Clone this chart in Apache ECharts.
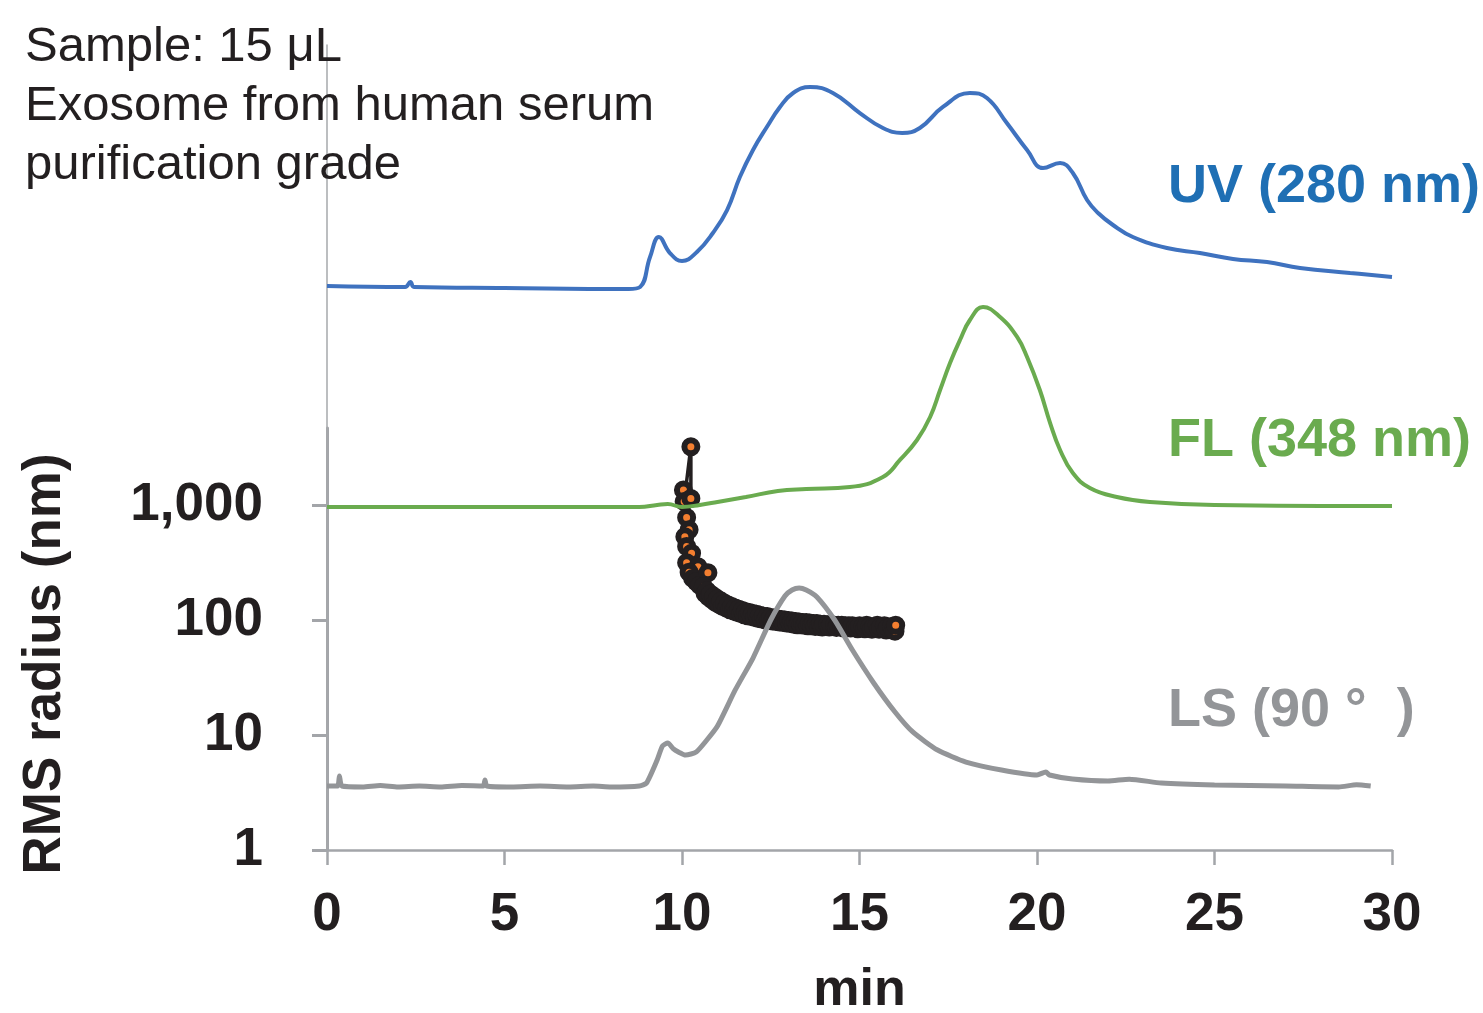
<!DOCTYPE html>
<html>
<head>
<meta charset="utf-8">
<script src="https://cdn.jsdelivr.net/npm/echarts@6/dist/echarts.min.js"></script>
<style>
html,body{margin:0;padding:0;background:#fff;}
#chart{width:1483px;height:1013px;}
</style>
</head>
<body>
<div id="chart"></div>
<script>
// ---- Data (time in min) ----
const xTicks = [0, 5, 10, 15, 20, 25, 30];
const yTicks = [1, 10, 100, 1000];

// UV (280 nm) signal, arbitrary units
const uvTrace = [[0,70.06],[2.2,69.94],[2.35,70.56],[2.45,69.94],[5,69.81],[8.5,69.69],[8.82,69.94],[9.1,73.66],[9.35,76.15],[9.66,74.16],[10.0,73.17],[10.42,74.29],[10.87,76.65],[11.27,79.50],[11.63,83.60],[12.0,86.96],[12.39,89.81],[12.76,92.30],[13.13,94.04],[13.61,94.78],[14.25,94.04],[15.01,91.55],[15.66,89.69],[16.2,89.07],[16.7,89.69],[17.35,92.30],[18.11,94.04],[18.59,93.42],[19.15,90.31],[19.72,86.96],[20.17,84.72],[20.65,85.34],[21.01,84.10],[21.41,80.75],[21.72,79.13],[22.14,77.64],[22.7,76.15],[23.66,74.78],[24.59,74.16],[25.52,73.42],[26.48,73.04],[27.41,72.30],[28.82,71.68],[30.0,71.18]];

// FL (348 nm) signal, arbitrary units
const flTrace = [[0,42.61],[8.8,42.61],[9.3,42.86],[9.6,42.98],[10.0,42.61],[10.5,42.86],[11.0,43.23],[11.8,43.85],[12.7,44.60],[13.5,44.84],[14.73,45.09],[15.66,46.34],[16.14,48.45],[16.62,50.93],[16.99,53.79],[17.27,57.14],[17.55,60.50],[17.83,63.35],[18.11,65.84],[18.48,67.45],[18.96,66.21],[19.44,63.73],[19.72,61.24],[20.08,57.14],[20.37,53.04],[20.65,49.69],[21.01,46.83],[21.49,44.97],[22.25,43.85],[23.18,43.23],[25.0,42.86],[30.0,42.73]];

// LS (90°) signal, arbitrary units
const lsTrace = [[0,7.95],[0.3,7.95],[0.35,9.19],[0.42,7.95],[1.0,7.83],[1.5,8.0],[2,7.83],[2.6,7.95],[3.2,7.83],[3.8,8.0],[4.4,7.95],[4.45,8.7],[4.5,7.95],[5.2,7.83],[6,7.95],[6.8,7.83],[7.5,7.95],[8,7.83],[8.8,7.95],[9.0,8.32],[9.3,11.18],[9.45,12.92],[9.6,13.29],[9.75,12.6],[9.9,12.17],[10.1,11.80],[10.4,12.17],[10.7,13.66],[11.0,15.40],[11.5,19.88],[12.0,23.85],[12.5,28.57],[12.9,31.55],[13.1,32.3],[13.3,32.55],[13.5,32.30],[13.8,31.43],[14.3,28.57],[14.8,24.84],[15.4,20.75],[16.0,17.14],[16.5,14.66],[17.2,12.42],[18.0,10.93],[19.0,9.94],[20.0,9.32],[20.25,9.7],[20.35,9.32],[21,8.82],[22,8.57],[22.6,8.8],[23.5,8.32],[25,8.07],[27,7.95],[28.5,7.83],[29.0,8.1],[29.4,7.95]];

// RMS radius (nm) vs time (min)
const rmsRadius = [[10.04,1350],[10.06,1070],[10.25,3210],[10.25,1140],[10.13,780],[10.2,610],[10.08,530],[10.13,435],[10.27,380],[10.13,315],[10.45,290],[10.2,260],[10.3,230],[10.4,215],[10.5,200],[10.73,258],
[10.6,195],[10.65,170],[10.7,180],[10.75,158],[10.8,168],[10.85,150],[10.9,160],[10.95,142],[11.0,152],[11.05,136],[11.1,146],[11.15,131],[11.2,140],[11.25,127],[11.3,135],[11.35,123],[11.4,131],[11.45,120],[11.5,127],[11.55,117],[11.6,124],[11.65,114],[11.7,121],[11.75,111],[11.8,118],[11.85,109],[11.9,116],[11.95,107],[12.0,114],[12.05,105],[12.1,112],[12.15,103],[12.2,110],[12.25,102],[12.3,108],[12.35,100],[12.4,107],[12.45,99],[12.5,105],[12.55,98],[12.6,104],[12.65,97],[12.7,102],[12.75,96],[12.8,101],[12.85,95],[12.9,100],[12.95,94],[13.0,99],[13.05,93],[13.1,98],[13.15,92],[13.2,97],[13.25,91],[13.3,96],[13.35,91],[13.4,95],[13.45,90],[13.5,95],[13.55,89],[13.6,94],[13.65,89],[13.7,93],[13.75,88],[13.8,93],[13.85,88],[13.9,92],[13.95,87],[14.0,92],[14.1,91],[14.15,87],[14.2,91],[14.3,90],[14.35,86],[14.4,90],[14.5,90],[14.55,85],[14.6,89],[14.7,89],[14.75,85],[14.8,89],[14.9,88],[14.95,84],[15.0,89],[15.1,88],[15.15,84],[15.2,90],[15.3,88],[15.35,83],[15.4,87],[15.5,90],[15.55,83],[15.6,87],[15.7,89],[15.75,82],[15.8,86],[15.9,88],[15.95,81],[16.0,80],[16.02,90]];

const annotationLines = ['Sample: 15 μL', 'Exosome from human serum', 'purification grade'];
const traceLabels = ['UV (280 nm)', 'FL (348 nm)', 'LS (90 °  )'];

const FONT = "'Liberation Sans', Arial, Helvetica, sans-serif";
const AXIS_GREY = '#a3a5a9';
const TEXT_DARK = '#231f20';

const chart = echarts.init(document.getElementById('chart'), null, {renderer: 'canvas'});

const option = {
  backgroundColor: '#ffffff',
  animation: false,
  grid: [
    {left: 327, right: 91, top: 428, bottom: 163, containLabel: false, outerBoundsMode: 'none'},
    {left: 327, right: 91, top: 45, bottom: 163, containLabel: false, outerBoundsMode: 'none'}
  ],
  xAxis: [
    {
      gridIndex: 0, type: 'value', min: 0, max: 30, interval: 5,
      name: 'min', nameLocation: 'middle', nameGap: 115,
      nameTextStyle: {fontFamily: FONT, fontWeight: 'bold', fontSize: 52, color: TEXT_DARK},
      axisLine: {show: true, lineStyle: {color: AXIS_GREY, width: 2.5}},
      axisTick: {show: true, inside: false, length: 15, lineStyle: {color: AXIS_GREY, width: 2.5}},
      axisLabel: {margin: 39, fontFamily: FONT, fontWeight: 'bold', fontSize: 53, color: TEXT_DARK, showMinLabel: true, showMaxLabel: true},
      splitLine: {show: false}
    },
    {
      gridIndex: 1, type: 'value', min: 0, max: 30, show: false
    }
  ],
  yAxis: [
    {
      gridIndex: 0, type: 'log', logBase: 10, min: 1, max: Math.pow(10, 422/115),
      axisLine: {show: true, onZero: false, lineStyle: {color: AXIS_GREY, width: 3}},
      axisTick: {show: true, length: 15, lineStyle: {color: AXIS_GREY, width: 3}, customValues: yTicks},
      axisLabel: {margin: 64, fontFamily: FONT, fontWeight: 'bold', fontSize: 53, color: TEXT_DARK,
        customValues: yTicks,
        formatter: v => Math.round(v).toLocaleString('en-US')},
      splitLine: {show: false},
      minorTick: {show: false}
    },
    {
      gridIndex: 1, type: 'value', min: 0, max: 100,
      axisLine: {show: true, onZero: false, lineStyle: {color: '#a6a8ab', width: 1.5}},
      axisTick: {show: false}, axisLabel: {show: false}, splitLine: {show: false}
    }
  ],
  series: [
    {
      name: 'RMS radius', type: 'line', xAxisIndex: 0, yAxisIndex: 0,
      data: rmsRadius, z: 2,
      showSymbol: true, symbol: 'circle', symbolSize: 13,
      lineStyle: {color: TEXT_DARK, width: 3.5},
      itemStyle: {color: '#f47f30', borderColor: TEXT_DARK, borderWidth: 6},
      clip: false
    },
    {
      name: 'LS (90°)', type: 'line', xAxisIndex: 1, yAxisIndex: 1,
      data: lsTrace, z: 3, showSymbol: false, smooth: 0.2,
      lineStyle: {color: '#939598', width: 5}
    },
    {
      name: 'FL (348 nm)', type: 'line', xAxisIndex: 1, yAxisIndex: 1,
      data: flTrace, z: 4, showSymbol: false, smooth: 0.45,
      lineStyle: {color: '#6aab4f', width: 4}
    },
    {
      name: 'UV (280 nm)', type: 'line', xAxisIndex: 1, yAxisIndex: 1,
      data: uvTrace, z: 4, showSymbol: false, smooth: 0.45,
      lineStyle: {color: '#3f72bf', width: 4}
    }
  ],
  graphic: [
    {type: 'text', left: 25, top: 23, z: 10,
      style: {text: annotationLines[0], font: `49px ${FONT}`, fill: TEXT_DARK}},
    {type: 'text', left: 25, top: 82, z: 10,
      style: {text: annotationLines[1], font: `49px ${FONT}`, fill: TEXT_DARK}},
    {type: 'text', left: 25, top: 141, z: 10,
      style: {text: annotationLines[2], font: `49px ${FONT}`, fill: TEXT_DARK}},
    {type: 'text', x: 1168, y: 187, z: 10,
      style: {text: traceLabels[0], font: `bold 54px ${FONT}`, fill: '#1f6fb4', verticalAlign: 'middle'}},
    {type: 'text', x: 1168, y: 441, z: 10,
      style: {text: traceLabels[1], font: `bold 54px ${FONT}`, fill: '#6aab4f', verticalAlign: 'middle'}},
    {type: 'text', x: 1168, y: 711, z: 10,
      style: {text: traceLabels[2], font: `bold 54px ${FONT}`, fill: '#939598', verticalAlign: 'middle'}},
    {type: 'text', x: 45, y: 664, rotation: Math.PI/2, z: 10,
      style: {text: 'RMS radius (nm)', font: `bold 53px ${FONT}`, fill: TEXT_DARK, align: 'center', verticalAlign: 'middle'}}
  ]
};
chart.setOption(option);
</script>
</body>
</html>
